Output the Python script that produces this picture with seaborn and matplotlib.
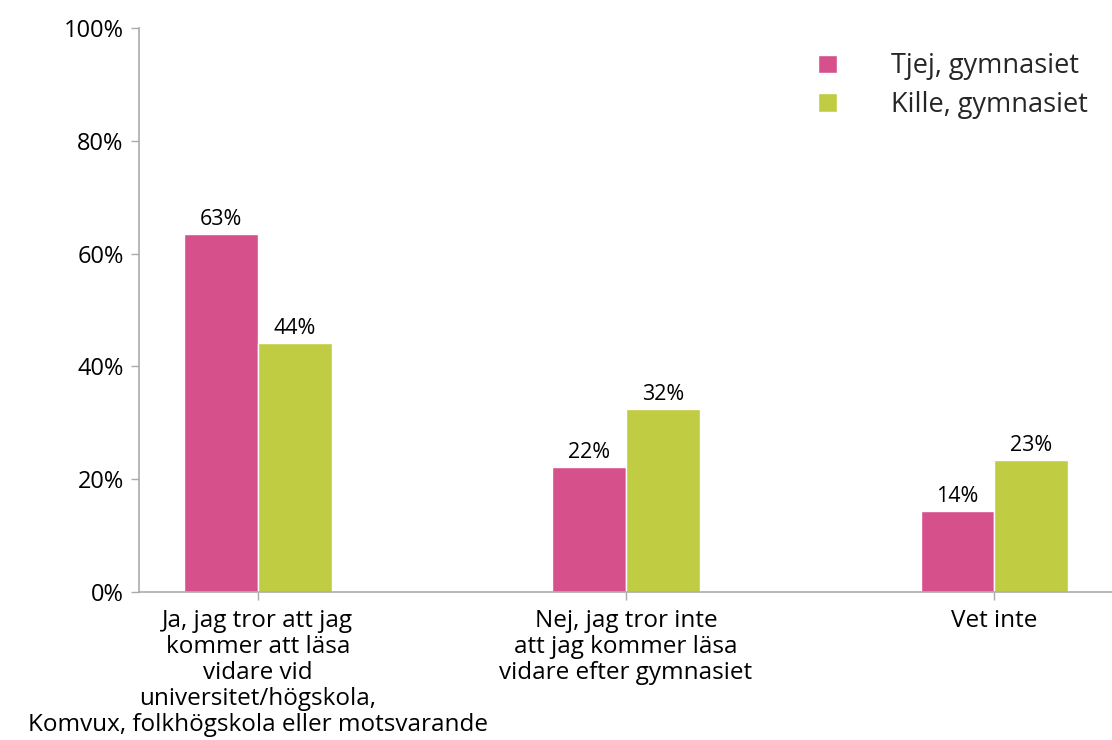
import pandas as pd
import seaborn as sns
import matplotlib
import matplotlib.pyplot as plt
from matplotlib.ticker import PercentFormatter

matplotlib.use("Agg")

categories = [
  "Ja, jag tror att jag\nkommer att läsa\nvidare vid\nuniversitet/högskola,\nKomvux, folkhögskola eller motsvarande",
  "Nej, jag tror inte\natt jag kommer läsa\nvidare efter gymnasiet",
  "Vet inte",
]
groups = ["Tjej, gymnasiet", "Kille, gymnasiet"]
tjej = [63.45, 22.2, 14.4]
kille = [44.1, 32.4, 23.4]
colors = ["#D6508C", "#C0CD42"]

df = pd.DataFrame(
  {
    "category": categories * 2,
    "group": [groups[0]] * 3 + [groups[1]] * 3,
    "value": tjej + kille,
  }
)

sns.set_theme(style="white")
plt.rcParams["font.family"] = ["Open Sans", "DejaVu Sans"]

fig = plt.figure(figsize=(11.12, 7.4), dpi=100)
ax = fig.add_axes((0.125, 0.2, 0.875, 0.762))

sns.barplot(
  data=df,
  x="category",
  y="value",
  hue="group",
  order=categories,
  hue_order=groups,
  palette=colors,
  width=0.4,
  saturation=1,
  ax=ax,
  legend=True,
)

for cont in ax.containers:
  ax.bar_label(cont, labels=[f"{v:.0f}%" for v in cont.datavalues], padding=3, fontsize=15.5, color="black")

ax.set_ylim(0, 100)
ax.set_xlim(-0.323, 2.32)
ax.set_yticks([0, 20, 40, 60, 80, 100])
ax.yaxis.set_major_formatter(PercentFormatter(decimals=0))
ax.set_xlabel("")
ax.set_ylabel("")

sns.despine(ax=ax, top=True, right=True)
for s in ("left", "bottom"):
  ax.spines[s].set_color("#ababab")
  ax.spines[s].set_linewidth(1.2)
ax.tick_params(axis="y", length=6, width=1, color="#ababab", labelsize=17, labelcolor="black", pad=5, left=True)
ax.tick_params(axis="x", length=6, width=1, color="#ababab", labelsize=17.5, labelcolor="black", pad=6, bottom=True)
for lbl in ax.get_xticklabels():
  lbl.set_linespacing(1.12)

leg = ax.legend(
  loc="upper right",
  bbox_to_anchor=(1.0, 1.0),
  frameon=False,
  fontsize=19.5,
  handlelength=0.7,
  handleheight=0.7,
  handletextpad=2.0,
  labelspacing=0.4,
  title=None,
)

plt.savefig("out.png", dpi=100)
